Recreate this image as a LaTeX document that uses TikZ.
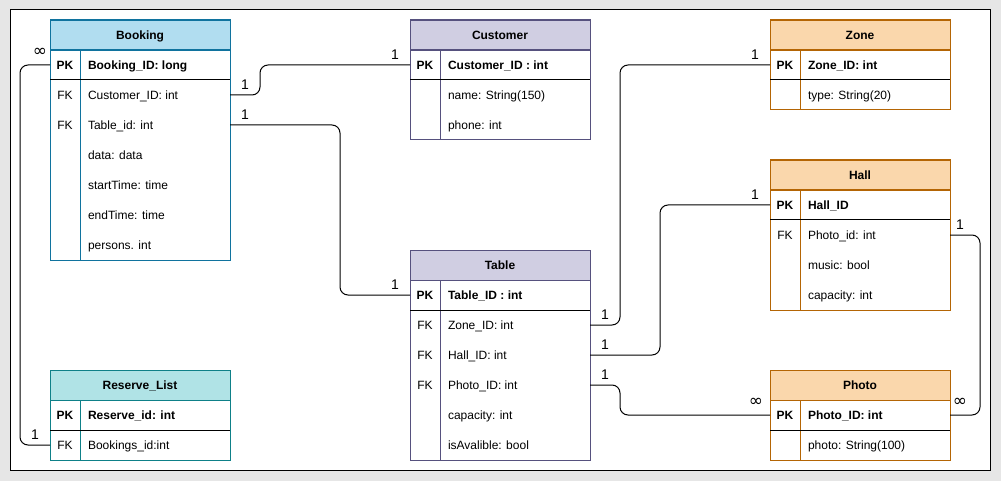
\documentclass[tikz,border=0pt]{standalone}
\usepackage{fontspec}
\setmainfont{Liberation Sans}
\newfontfamily\symfont{DejaVu Sans}

\definecolor{pageback}{HTML}{E6E6E6}
\definecolor{blueFill}{HTML}{B1DDF0}
\definecolor{blueLine}{HTML}{10739E}
\definecolor{purpleFill}{HTML}{D0CEE2}
\definecolor{purpleLine}{HTML}{56517E}
\definecolor{orangeFill}{HTML}{FAD7AC}
\definecolor{orangeLine}{HTML}{B46504}
\definecolor{tealFill}{HTML}{B0E3E6}
\definecolor{tealLine}{HTML}{0E8088}

% header box of an entity: name, left x, top y, title, fill, border
\newcommand\erhead[6]{%
  \node[hdrbox, fill=#5, draw=#6] (#1) at (#2+90, #3+15) {};
  \node[titletxt] (#1-t) at ([yshift=-4.3pt]#1.center) {#4};
}
% one attribute row: table name, row number, left x, top y, key, field
\newcommand\errow[6]{%
  \node[rowbox] (#1-r#2) at (#3+90, #4+15) {};
  \node[keytxt] (#1-k#2) at ([xshift=15pt, yshift=-4.3pt]#1-r#2.west) {#5};
  \node[fldtxt] (#1-f#2) at ([xshift=38pt, yshift=-4.3pt]#1-r#2.west) {#6};
}
% outline of an entity: left x, top y, bottom y, border colour
\newcommand\erframe[4]{%
  \draw[tline, draw=#4] (#1,#2) rectangle (#1+180,#3);
  \draw[tline, draw=#4] (#1,#2+30) -- (#1+180,#2+30);
  \draw[tline, draw=#4] (#1+30,#2+30) -- (#1+30,#3);
  \draw[tline, draw=black] (#1,#2+60) -- (#1+180,#2+60);
}

\begin{document}
\begin{tikzpicture}[x=1pt, y=-1pt,
  every node/.style={font=\fontsize{12}{14}\selectfont, inner sep=0pt, outer sep=0pt},
  hdrbox/.style={minimum width=180pt, minimum height=30pt},
  rowbox/.style={minimum width=180pt, minimum height=30pt},
  titletxt/.style={anchor=base, font=\fontsize{12}{14}\selectfont\bfseries},
  keytxt/.style={anchor=base},
  fldtxt/.style={anchor=base west},
  tline/.style={line width=1pt},
  conn/.style={line width=1pt, rounded corners=8pt},
  card/.style={font=\fontsize{14}{16}\selectfont},
  many/.style={font=\symfont\fontsize{17}{18}\selectfont}
]
\useasboundingbox (0,0) rectangle (1001,481);
\fill[pageback] (0,0) rectangle (1001,481);
\draw[line width=1pt, fill=white] (10,10) rectangle (990,470);

% Booking
\erhead{bk}{50}{20}{Booking}{blueFill}{blueLine}
\errow{bk}{1}{50}{50}{\bfseries PK}{\bfseries Booking\_ID: long}
\errow{bk}{2}{50}{80}{FK}{Customer\_ID: int}
\errow{bk}{3}{50}{110}{FK}{Table\_id: int}
\errow{bk}{4}{50}{140}{}{data: data}
\errow{bk}{5}{50}{170}{}{startTime: time}
\errow{bk}{6}{50}{200}{}{endTime: time}
\errow{bk}{7}{50}{230}{}{persons. int}
\erframe{50}{20}{260}{blueLine}

% Customer
\erhead{cu}{410}{20}{Customer}{purpleFill}{purpleLine}
\errow{cu}{1}{410}{50}{\bfseries PK}{\bfseries Customer\_ID : int}
\errow{cu}{2}{410}{80}{}{name: String(150)}
\errow{cu}{3}{410}{110}{}{phone: int}
\erframe{410}{20}{140}{purpleLine}

% Table
\erhead{tb}{410}{250}{Table}{purpleFill}{purpleLine}
\errow{tb}{1}{410}{280}{\bfseries PK}{\bfseries Table\_ID : int}
\errow{tb}{2}{410}{310}{FK}{Zone\_ID: int}
\errow{tb}{3}{410}{340}{FK}{Hall\_ID: int}
\errow{tb}{4}{410}{370}{FK}{Photo\_ID: int}
\errow{tb}{5}{410}{400}{}{capacity: int}
\errow{tb}{6}{410}{430}{}{isAvalible: bool}
\erframe{410}{250}{460}{purpleLine}

% Zone
\erhead{zo}{770}{20}{Zone}{orangeFill}{orangeLine}
\errow{zo}{1}{770}{50}{\bfseries PK}{\bfseries Zone\_ID: int}
\errow{zo}{2}{770}{80}{}{type: String(20)}
\erframe{770}{20}{110}{orangeLine}

% Hall
\erhead{ha}{770}{160}{Hall}{orangeFill}{orangeLine}
\errow{ha}{1}{770}{190}{\bfseries PK}{\bfseries Hall\_ID}
\errow{ha}{2}{770}{220}{FK}{Photo\_id: int}
\errow{ha}{3}{770}{250}{}{music: bool}
\errow{ha}{4}{770}{280}{}{capacity: int}
\erframe{770}{160}{310}{orangeLine}

% Photo
\erhead{ph}{770}{370}{Photo}{orangeFill}{orangeLine}
\errow{ph}{1}{770}{400}{\bfseries PK}{\bfseries Photo\_ID: int}
\errow{ph}{2}{770}{430}{}{photo: String(100)}
\erframe{770}{370}{460}{orangeLine}

% Reserve_List
\erhead{rl}{50}{370}{Reserve\_List}{tealFill}{tealLine}
\errow{rl}{1}{50}{400}{\bfseries PK}{\bfseries Reserve\_id: int}
\errow{rl}{2}{50}{430}{FK}{Bookings\_id:int}
\erframe{50}{370}{460}{tealLine}

% relationships
\draw[conn] (bk-r1.west) -- ++(-30,0) |- (rl-r2.west);
\draw[conn] (bk-r2.east) -- ++(30,0) |- (cu-r1.west);
\draw[conn] (bk-r3.east) -- ++(110,0) |- (tb-r1.west);
\draw[conn] (tb-r2.east) -- ++(30,0) |- (zo-r1.west);
\draw[conn] (tb-r3.east) -- ++(70,0) |- (ha-r1.west);
\draw[conn] (tb-r4.east) -- ++(30,0) |- (ph-r1.west);
\draw[conn] (ha-r2.east) -- ++(30,0) |- (ph-r1.east);

% cardinalities
\node[many] (m1) at (40,52) {∞};
\node[card] (o1) at (35,435) {1};
\node[card] (o2) at (245,85) {1};
\node[card] (o3) at (395,55) {1};
\node[card] (o4) at (245,115) {1};
\node[card] (o5) at (395,285) {1};
\node[card] (o6) at (605,315) {1};
\node[card] (o7) at (755,55) {1};
\node[card] (o8) at (605,345) {1};
\node[card] (o9) at (755,195) {1};
\node[card] (o10) at (605,375) {1};
\node[many] (m2) at (756,402) {∞};
\node[card] (o11) at (960,225) {1};
\node[many] (m3) at (960,402) {∞};
\end{tikzpicture}
\end{document}
